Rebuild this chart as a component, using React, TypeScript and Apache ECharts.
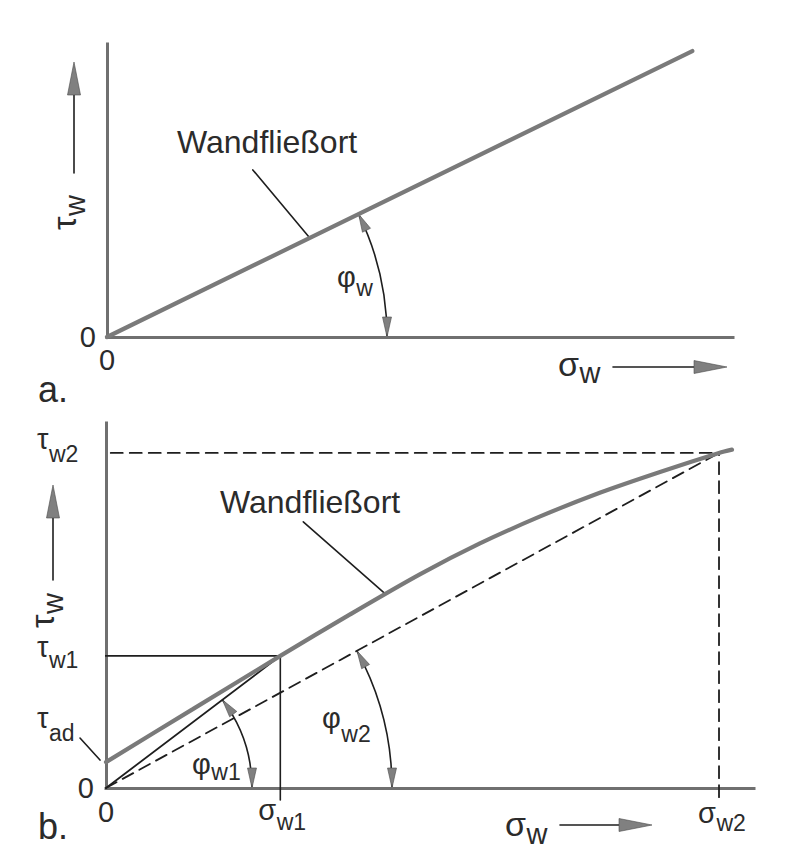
import React, { useEffect, useRef } from 'react';
import * as echarts from 'echarts';

const W = 795;
const H = 857;

// (a) straight wall yield locus through the origin
const locusA: number[][] = [
  [0, 0],
  [93.5, 97.6],
];

// (b) curved wall yield locus starting at the adhesion stress
const tauAd = 7.1;
const sigmaW1 = 26.9;
const tauW1 = 36.2;
const sigmaW2 = 94.6;
const tauW2 = 91.8;
const locusB: number[][] = [
  [0, 7.1],
  [13.4, 21.6],
  [26.9, 36.2],
  [37.6, 47.5],
  [48.5, 58.6],
  [57.7, 67.0],
  [67.0, 74.4],
  [76.2, 80.9],
  [85.5, 86.6],
  [94.6, 91.8],
  [96.6, 92.7],
];

const originTick = '0';

const FONT = '"Liberation Sans", Arial, Helvetica, sans-serif';
const TEXT = '#2b2b2b';
const INK = '#1e1e1e';
const AXIS = '#707070';
const CURVE = '#7a7a7a';
const HEAD_FILL = '#808080';
const DASH = [12, 7];

export default function App() {
  const ref = useRef<HTMLDivElement>(null);

  useEffect(() => {
    const el = ref.current!;
    const chart = echarts.init(el, null, { renderer: 'svg' });

    const axisLine = { show: true, lineStyle: { color: AXIS, width: 3, cap: 'square' } };
    const tickLabel = (margin: number) => ({
      show: true,
      formatter: (v: number) => (v === 0 ? originTick : ''),
      fontSize: 29,
      fontFamily: FONT,
      color: TEXT,
      margin,
      showMinLabel: true,
      showMaxLabel: false,
    });
    const baseAxis = (gridIndex: number, margin: number) => ({
      type: 'value',
      gridIndex,
      min: 0,
      max: 100,
      interval: 100,
      axisLine,
      axisTick: { show: false },
      splitLine: { show: false },
      axisLabel: tickLabel(margin),
    });

    const line = (
      grid: number,
      data: number[][],
      style: any,
      z = 2,
      smooth: number | boolean = false
    ) => ({
      type: 'line',
      xAxisIndex: grid,
      yAxisIndex: grid,
      data,
      symbol: 'none',
      smooth,
      clip: false,
      silent: true,
      z,
      lineStyle: { cap: 'round', ...style },
      emphasis: { disabled: true },
    });

    chart.setOption({
      animation: false,
      backgroundColor: '#ffffff',
      grid: [
        { left: 107, top: 44, width: 626, height: 293 },
        { left: 106, top: 423, width: 648, height: 365 },
      ],
      xAxis: [baseAxis(0, 8), baseAxis(1, 9)],
      yAxis: [baseAxis(0, 11), baseAxis(1, 12)],
      series: [
        line(0, locusA, { color: CURVE, width: 4.2 }, 4),
        line(1, locusB, { color: CURVE, width: 4.2 }, 4, 0.3),
        line(1, [[0, 0], [sigmaW1, tauW1]], { color: INK, width: 1.8 }),
        line(1, [[0, 0], [sigmaW2, tauW2]], { color: INK, width: 1.8, type: DASH }),
        line(1, [[-2.2, tauW1], [sigmaW1, tauW1]], { color: INK, width: 1.6 }),
        line(1, [[sigmaW1, -3.3], [sigmaW1, tauW1]], { color: INK, width: 1.6 }),
        line(1, [[-2.2, tauW2], [sigmaW2, tauW2]], { color: INK, width: 1.8, type: DASH }),
        line(1, [[sigmaW2, -2.5], [sigmaW2, tauW2]], { color: INK, width: 1.8, type: DASH }),
      ],
    });

    const px = (g: number, p: number[]) => chart.convertToPixel({ gridIndex: g }, p) as number[];

    const ctx = document.createElement('canvas').getContext('2d')!;
    const textWidth = (t: string, size: number) => {
      ctx.font = `${size}px ${FONT}`;
      return ctx.measureText(t).width;
    };

    const text = (x: number, y: number, t: string, size: number) => ({
      type: 'text',
      x,
      y,
      silent: true,
      style: {
        text: t,
        fontSize: size,
        fontFamily: FONT,
        fill: TEXT,
        align: 'left',
        verticalAlign: 'middle',
      },
    });

    // symbol with subscript: main glyph, then the index set lower and smaller
    const sym = (
      x: number,
      y: number,
      main: string,
      sub: string,
      subDy: number,
      mainSize = 29,
      subSize = 23
    ) => [
      text(x, y, main, mainSize),
      text(x + textWidth(main, mainSize) + 0.5, y + subDy, sub, subSize),
    ];

    const segment = (a: number[], b: number[], width = 1.6) => ({
      type: 'line',
      silent: true,
      shape: { x1: a[0], y1: a[1], x2: b[0], y2: b[1] },
      style: { stroke: INK, lineWidth: width, lineCap: 'round' },
    });

    const head = (tip: number[], dir: number[], len: number, wid: number) => {
      const [tx, ty] = tip;
      const [dx, dy] = dir;
      const bx = tx - dx * len;
      const by = ty - dy * len;
      const nx = -dy;
      const ny = dx;
      return {
        type: 'polygon',
        silent: true,
        shape: {
          points: [
            [tx, ty],
            [bx + (nx * wid) / 2, by + (ny * wid) / 2],
            [bx - (nx * wid) / 2, by - (ny * wid) / 2],
          ],
        },
        style: { fill: HEAD_FILL, stroke: '#4a4a4a', lineWidth: 0.6 },
      };
    };

    // axis direction arrow: shaft plus long narrow head
    const axisArrow = (from: number[], to: number[]) => {
      const dx = to[0] - from[0];
      const dy = to[1] - from[1];
      const L = Math.hypot(dx, dy);
      const u = [dx / L, dy / L];
      const hl = 33;
      return [
        segment(from, [to[0] - u[0] * hl, to[1] - u[1] * hl], 1.6),
        head(to, u, hl, 13),
      ];
    };

    // angle between the x axis and a line through the origin, arrows on both ends
    const angleMark = (o: number[], end: number[], r: number) => {
      const theta = Math.atan2(o[1] - end[1], end[0] - o[0]);
      const top = [o[0] + r * Math.cos(theta), o[1] - r * Math.sin(theta)];
      const bottom = [o[0] + r, o[1]];
      return [
        {
          type: 'arc',
          silent: true,
          shape: { cx: o[0], cy: o[1], r, startAngle: -theta, endAngle: 0, clockwise: true },
          style: { stroke: INK, lineWidth: 1.6, fill: 'none' },
        },
        head(top, [-Math.sin(theta), -Math.cos(theta)], 18, 9),
        head(bottom, [0, 1], 20, 9),
      ];
    };

    const rotatedTitle = (x: number, y: number) => ({
      type: 'group',
      x,
      y,
      rotation: Math.PI / 2,
      silent: true,
      children: sym(0, 0, 'τ', 'w', 11, 34, 29),
    });

    // ---- panel a
    const oA = px(0, [0, 0]);
    const endA = px(0, locusA[1]);
    const leaderA = px(0, [32.4, (32.4 * locusA[1][1]) / locusA[1][0]]);

    // ---- panel b
    const oB = px(1, [0, 0]);
    const s1 = px(1, [sigmaW1, 0]);
    const s2 = px(1, [sigmaW2, 0]);
    const t1 = px(1, [0, tauW1]);
    const t2 = px(1, [0, tauW2]);
    const tA = px(1, [0, tauAd]);
    const p1 = px(1, [sigmaW1, tauW1]);
    const p2 = px(1, [sigmaW2, tauW2]);
    const leaderB = px(1, [43.1, 53.2]);

    const graphic: any[] = [
      // a.
      text(38, 389, 'a.', 36),
      rotatedTitle(64, 230),
      ...axisArrow([74, 173], [74, 62]),
      text(177, 142, 'Wandfließort', 32),
      segment([leaderA[0] - 57, leaderA[1] - 68], leaderA),
      ...angleMark(oA, endA, 280),
      ...sym(337, 277, 'φ', 'w', 11),
      ...sym(558, 364, 'σ', 'w', 9, 34, 29),
      ...axisArrow([613, 367], [727, 367]),

      // b.
      text(38, 826, 'b.', 36),
      rotatedTitle(42, 628),
      ...axisArrow([53, 580], [53, 485]),
      text(220, 502, 'Wandfließort', 32),
      segment([leaderB[0] - 82, leaderB[1] - 72], leaderB),
      ...sym(t2[0] - 69, t2[1] - 14, 'τ', 'w2', 15),
      ...sym(t1[0] - 69, t1[1] - 9, 'τ', 'w1', 13),
      ...sym(tA[0] - 69, tA[1] - 44, 'τ', 'ad', 15),
      segment([tA[0] - 26, tA[1] - 24], [tA[0] - 6, tA[1] - 2]),
      ...angleMark(oB, p1, 146),
      ...angleMark(oB, p2, 286),
      ...sym(192, 764, 'φ', 'w1', 8),
      ...sym(322, 718, 'φ', 'w2', 16),
      ...sym(s1[0] - 22, s1[1] + 22, 'σ', 'w1', 12),
      ...sym(s2[0] - 21, s2[1] + 25, 'σ', 'w2', 10),
      ...sym(505, 824, 'σ', 'w', 10, 34, 29),
      ...axisArrow([560, 825], [652, 825]),
    ];

    chart.setOption({ graphic });

    return () => chart.dispose();
  }, []);

  return (
    <div
      ref={ref}
      style={{ position: 'fixed', left: 0, top: 0, width: W, height: H, background: '#ffffff' }}
    />
  );
}
